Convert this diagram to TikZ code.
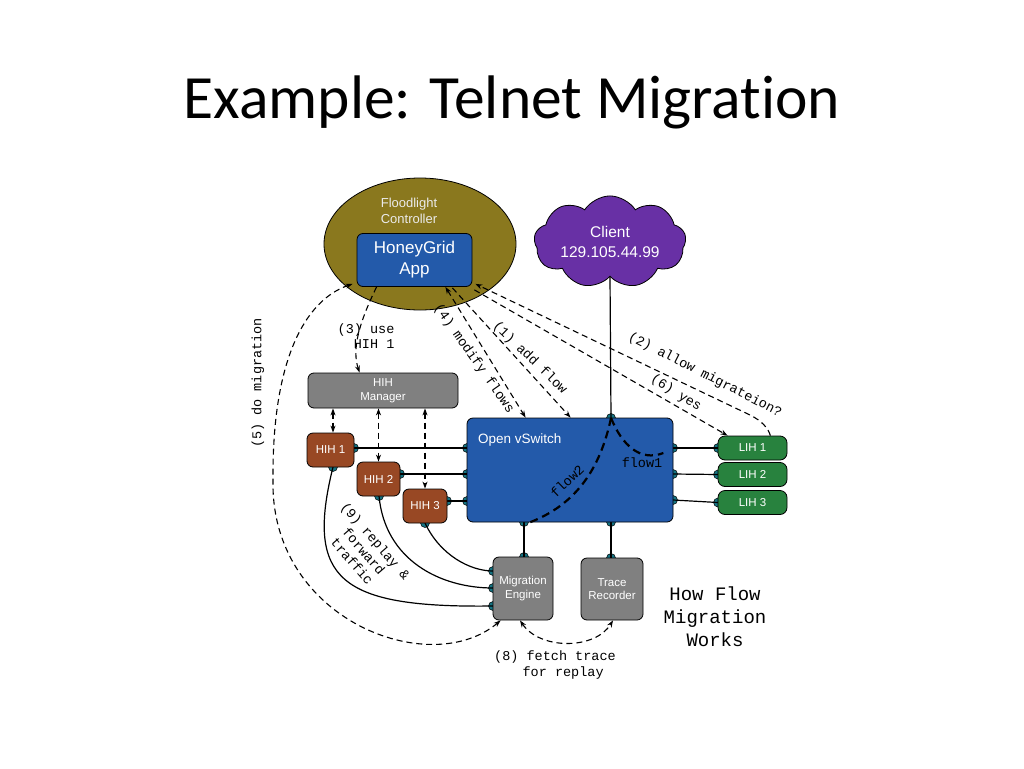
\documentclass[tikz,border=0pt]{standalone}
\usepackage{fontspec}
\usetikzlibrary{shapes.geometric,shapes.symbols,arrows.meta,calc}
\newfontfamily\ttlfont[Ligatures={NoCommon,NoRequired,NoContextual}]{Carlito}
\newfontfamily\hvfont{Liberation Sans}
\newfontfamily\monofont{Liberation Mono}
\definecolor{olivec}{RGB}{138,120,30}
\definecolor{bluec}{RGB}{35,90,170}
\definecolor{purplec}{RGB}{104,48,165}
\definecolor{greenc}{RGB}{40,130,62}
\definecolor{brownc}{RGB}{152,72,36}
\definecolor{grayc}{RGB}{128,128,128}
\definecolor{tealc}{RGB}{22,115,130}
\begin{document}
\begin{tikzpicture}[x=1pt,y=-1pt,
  port/.style={circle,draw=black,line width=0.5pt,fill=tealc,inner sep=0,minimum size=9},
  box/.style={draw=black,line width=0.8pt,rounded corners=6,text=white,align=center,inner sep=0,font=\hvfont\fontsize{11.5}{13.5}\selectfont},
  wire/.style={line width=1.2pt},
  dsh/.style={line width=1.1pt,dash pattern=on 6pt off 4pt},
  fdsh/.style={line width=2.2pt,dash pattern=on 8pt off 5pt},
  arr/.style={-{Stealth[length=7pt,width=5pt]}},
  darr/.style={{Stealth[length=7pt,width=5pt]}-{Stealth[length=7pt,width=5pt]}},
  lbl/.style={font=\monofont\fontsize{13.5}{15.5}\selectfont,inner sep=0,align=center}]
\useasboundingbox (0,0) rectangle (1024,768);
\fill[white] (0,0) rectangle (1024,768);

\node[font=\ttlfont\fontsize{61.5}{70}\selectfont,anchor=base,inner sep=0] (title) at (512,118) {Example: Telnet Migrat\kern0pt ion};

% controller and client
\node[ellipse,draw=black,line width=0.8pt,fill=olivec,minimum width=192,minimum height=132,inner sep=0] (fl) at (420,244) {};
\node[font=\hvfont\fontsize{13}{16}\selectfont,text=white!92!black,align=center,inner sep=0] (flt) at (409,211) {Floodlight\\Controller};
\node[box,fill=bluec,minimum width=115,minimum height=53,font=\hvfont\fontsize{17}{21}\selectfont] (hg) at (414.5,260) {HoneyGrid\\App};
\node[cloud,cloud puffs=9,cloud puff arc=115,aspect=2,draw=black,line width=0.8pt,fill=purplec,minimum width=152,minimum height=84,inner sep=0,text=white,font=\hvfont\fontsize{15.5}{20}\selectfont,align=center] (cl) at (610,242) {Client\\129.105.44.99};

% ports
\node[port] (vt) at (611,418) {};
\node[port] (vl1) at (467,448) {};
\node[port] (vl2) at (467,474) {};
\node[port] (vl3) at (467,501) {};
\node[port] (vr1) at (673,448) {};
\node[port] (vr2) at (673,474) {};
\node[port] (vr3) at (673,500) {};
\node[port] (vb1) at (524,522) {};
\node[port] (vb2) at (611,522) {};
\node[port] (l1p) at (718,448) {};
\node[port] (l2p) at (718,474.5) {};
\node[port] (l3p) at (718,502.5) {};
\node[port] (h1r) at (354,448) {};
\node[port] (h2r) at (400,474) {};
\node[port] (h3r) at (447,501) {};
\node[port] (h1b) at (333,467) {};
\node[port] (h2b) at (379,496) {};
\node[port] (h3b) at (425,523) {};
\node[port] (m1) at (493,571) {};
\node[port] (m2) at (493,588) {};
\node[port] (m3) at (493,606) {};
\node[port] (mt) at (524,557) {};
\node[port] (tt) at (611,558) {};

% solid wires
\draw[wire] (cl.south) -- (vt.center);
\draw[wire] (h1r.center) -- (vl1.center);
\draw[wire] (h2r.center) -- (vl2.center);
\draw[wire] (h3r.center) -- (vl3.center);
\draw[wire] (vr1.center) -- (l1p.center);
\draw[wire] (vr2.center) -- (l2p.center);
\draw[wire] (vr3.center) -- (l3p.center);
\draw[wire] (vb1.center) -- (mt.center);
\draw[wire] (vb2.center) -- (tt.center);
\draw[wire] (h1b.center) .. controls (305,580) and (340,608) .. (m3.center);
\draw[wire] (h2b.center) .. controls (385,560) and (440,588) .. (m2.center);
\draw[wire] (h3b.center) .. controls (440,555) and (470,571) .. (m1.center);

% boxes
\node[box,fill=bluec,minimum width=206,minimum height=104] (vs) at (570,470) {};
\node[font=\hvfont\fontsize{13.5}{16}\selectfont,text=white,anchor=west,inner sep=0] (vst) at (478,440) {Open vSwitch};
\node[box,fill=greenc,rounded corners=7,minimum width=69,minimum height=24] (lih1) at (752.5,448) {LIH 1};
\node[box,fill=greenc,rounded corners=7,minimum width=69,minimum height=24] (lih2) at (752.5,474.5) {LIH 2};
\node[box,fill=greenc,rounded corners=7,minimum width=69,minimum height=24] (lih3) at (752.5,502.5) {LIH 3};
\node[box,fill=grayc,minimum width=150,minimum height=35] (mgr) at (383,390.5) {HIH\\Manager};
\node[box,fill=brownc,minimum width=47,minimum height=34] (hih1) at (330.5,450) {HIH 1};
\node[box,fill=brownc,minimum width=43,minimum height=34] (hih2) at (378.5,479) {HIH 2};
\node[box,fill=brownc,minimum width=44,minimum height=34] (hih3) at (425,506) {HIH 3};
\node[box,fill=grayc,minimum width=60,minimum height=63] (me) at (523,588.5) {Migration\\Engine};
\node[box,fill=grayc,minimum width=62,minimum height=62] (tr) at (612,589) {Trace\\Recorder};

% flows inside the switch
\draw[fdsh] (vt.center) .. controls (622,445) and (640,462) .. ($(vs.east)+(-10,-17)$);
\draw[fdsh] (vt.center) .. controls (600,470) and (575,505) .. ($(vs.south west)+(63,0)$);
\node[lbl] (f1) at (642,463) {flow1};
\node[lbl,rotate=44] (f2) at (567,481) {flow2};

% dashed control arrows
\draw[dsh,arr] ($(hg.south west)+(20,0)$) .. controls (358,325) and (352,350) .. ($(mgr.north west)+(52,0)$);
\node[lbl,align=left] (l3) at (366,336) {(3) use\\\ \ HIH 1};
\draw[dsh,darr] ($(hg.south east)+(-27,0)$) -- ($(vs.north west)+(59,0)$);
\node[lbl,rotate=-55] (l4) at (474,359) {(4) modify flows};
\draw[dsh,arr] ($(hg.south east)+(-20,1)$) -- ($(vs.north west)+(104,0)$);
\node[lbl,rotate=-44] (l1) at (530,358) {(1) add flow};
\draw[dsh,arr] (lih1.north east) ++(-17,0) .. controls (768,428) and (762,421) .. (750,415) -- ($(hg.south east)+(3,-3)$);
\node[lbl,rotate=-27] (l2) at (705,375) {(2) allow migrateion?};
\draw[dsh,arr] ($(hg.south east)+(2,3)$) -- ($(lih1.north west)+(10,0)$);
\node[lbl,rotate=-32] (l6) at (676,393) {(6) yes};
\draw[dsh,darr] (me.235) .. controls (430,680) and (270,620) .. (273,480) .. controls (272,360) and (305,300) .. ($(hg.south west)+(-4,-3)$);
\node[lbl,rotate=90] (l5) at (258,383) {(5) do migration};
\draw[dsh,darr] (mgr.south west -| hih1.north) ++(2.5,0) -- ($(hih1.north)+(2.5,0)$);
\draw[dsh,darr] (mgr.south west -| hih2.north) -- (hih2.north);
\draw[dsh,darr] (mgr.south west -| hih3.north) -- (hih3.north);
\node[lbl,rotate=-49] (l9) at (364,551) {(9) replay \&\\forward\\traffic};
\draw[dsh,darr] ($(me.south)+(-3,0)$) .. controls (540,650) and (595,650) .. ($(tr.south)+(1,0)$);
\node[lbl] (l8) at (555,665) {(8) fetch trace\\\ \ for replay};

\node[font=\monofont\fontsize{19}{23}\selectfont,align=center,inner sep=0] (hf) at (715,617) {How Flow\\Migration\\Works};
\end{tikzpicture}
\end{document}
